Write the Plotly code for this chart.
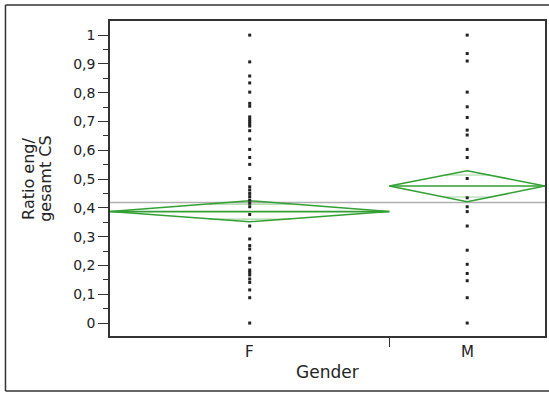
import plotly.graph_objects as go
import math

# ---- data ----
categories = ["F", "M"]
f_values = [1.0, 0.907, 0.858, 0.834, 0.802, 0.763, 0.753, 0.716, 0.707, 0.699,
            0.691, 0.684, 0.668, 0.639, 0.603, 0.575, 0.551, 0.502, 0.473, 0.462,
            0.450, 0.439, 0.427, 0.416, 0.404, 0.377, 0.337, 0.292, 0.269, 0.257,
            0.225, 0.211, 0.184, 0.176, 0.167, 0.153, 0.141, 0.115, 0.088, 0.0]
m_values = [1.0, 0.936, 0.910, 0.802, 0.751, 0.714, 0.670, 0.653, 0.603, 0.575,
            0.502, 0.435, 0.404, 0.387, 0.337, 0.253, 0.204, 0.172, 0.147, 0.088, 0.0]
group_n = [158, 88]            # group sizes (set the widths of the x sections)
group_mean = [0.387, 0.476]
ci_lower = [0.352, 0.421]
ci_upper = [0.425, 0.529]
grand_mean = 0.419
y_ticks = [0, 0.1, 0.2, 0.3, 0.4, 0.5, 0.6, 0.7, 0.8, 0.9, 1.0]
y_tick_labels = ["0", "0,1", "0,2", "0,3", "0,4", "0,5", "0,6", "0,7", "0,8", "0,9", "1"]

GREEN = "#33a033"
LIGHT_GREEN = "#9fd69f"
FONT = "DejaVu Sans"
TXT = "#222222"

total_n = sum(group_n)
starts = [0, group_n[0]]
ends = [group_n[0], total_n]
centers = [(s + e) / 2 for s, e in zip(starts, ends)]

fig = go.Figure()

# grand mean line
fig.add_trace(go.Scatter(x=[0, total_n], y=[grand_mean, grand_mean], mode="lines",
                         line=dict(color="#b0b0b0", width=1.5), hoverinfo="skip",
                         showlegend=False))

for i, cat in enumerate(categories):
    x0, x1, xc = starts[i], ends[i], centers[i]
    m, lo, hi = group_mean[i], ci_lower[i], ci_upper[i]
    hw = (hi - lo) / 2
    # overlap marks
    off = hw / math.sqrt(2)
    half = (x1 - x0) / 2 * (1 - 1 / math.sqrt(2))
    for yy in (m + off, m - off):
        fig.add_trace(go.Scatter(x=[xc - half, xc + half], y=[yy, yy], mode="lines",
                                 line=dict(color=LIGHT_GREEN, width=1.2), hoverinfo="skip",
                                 showlegend=False))
    # diamond
    fig.add_trace(go.Scatter(x=[x0, xc, x1, xc, x0], y=[m, hi, m, lo, m], mode="lines",
                             line=dict(color=GREEN, width=1.5), hoverinfo="skip",
                             showlegend=False))
    # mean line
    fig.add_trace(go.Scatter(x=[x0, x1], y=[m, m], mode="lines",
                             line=dict(color=GREEN, width=1.6), hoverinfo="skip",
                             showlegend=False))

# points
for i, vals in enumerate([f_values, m_values]):
    fig.add_trace(go.Scatter(x=[centers[i]] * len(vals), y=vals, mode="markers",
                             marker=dict(symbol="square", size=3, color="#222222",
                                         line=dict(width=0)),
                             showlegend=False, name=categories[i]))

# category labels and titles
annotations = []
for i, cat in enumerate(categories):
    annotations.append(dict(x=centers[i], xref="x", y=-0.05, yref="paper", text=cat,
                            showarrow=False, xanchor="center", yanchor="middle",
                            font=dict(family=FONT, size=15, color=TXT)))
annotations.append(dict(x=0.5, xref="paper", y=-0.113, yref="paper", text="Gender",
                        showarrow=False, xanchor="center", yanchor="middle",
                        font=dict(family=FONT, size=17, color=TXT)))
annotations.append(dict(x=(28 - 110) / 437, xref="paper", y=0.5, yref="paper",
                        text="Ratio eng/", textangle=-90, showarrow=False,
                        xanchor="center", yanchor="middle",
                        font=dict(family=FONT, size=16, color=TXT)))
annotations.append(dict(x=(45 - 110) / 437, xref="paper", y=0.5, yref="paper",
                        text="gesamt CS", textangle=-90, showarrow=False,
                        xanchor="center", yanchor="middle",
                        font=dict(family=FONT, size=16, color=TXT)))

# outer frame
fx0 = (5 - 110) / 437
fy_top = (336 - 5) / 315
fy_bot = (336 - 391) / 315
shapes = [
    dict(type="line", xref="paper", yref="paper", x0=fx0, x1=1.2, y0=fy_top, y1=fy_top,
         line=dict(color="#333333", width=1.5)),
    dict(type="line", xref="paper", yref="paper", x0=fx0, x1=fx0, y0=fy_bot, y1=fy_top,
         line=dict(color="#333333", width=1.5)),
    dict(type="line", xref="paper", yref="paper", x0=fx0, x1=1.2, y0=fy_bot, y1=fy_bot,
         line=dict(color="#333333", width=1.5)),
]

fig.update_layout(
    width=549, height=394,
    margin=dict(l=110, r=2, t=21, b=58),
    plot_bgcolor="white", paper_bgcolor="white",
    annotations=annotations, shapes=shapes,
    xaxis=dict(range=[0, total_n], showgrid=False, zeroline=False,
               showline=True, mirror=True, linecolor="#333333", linewidth=1.5,
               tickvals=[ends[0]], ticktext=[""], ticks="outside", ticklen=9,
               tickcolor="#333333", tickwidth=1),
    yaxis=dict(range=[-0.045, 1.049], showgrid=False, zeroline=False,
               showline=True, mirror=True, linecolor="#333333", linewidth=1.5,
               tickvals=y_ticks, ticktext=y_tick_labels, ticks="outside", ticklen=10,
               tickcolor="#333333", tickwidth=1,
               tickfont=dict(family=FONT, size=14, color=TXT),
               minor=dict(tickvals=[v + 0.05 for v in y_ticks[:-1]], ticks="outside",
                          ticklen=5, tickcolor="#333333")),
    font=dict(family=FONT, color=TXT),
)

fig.write_html("out.html", config={"displayModeBar": False},
               post_script="document.body.style.margin='0';document.body.style.overflow='hidden';")
